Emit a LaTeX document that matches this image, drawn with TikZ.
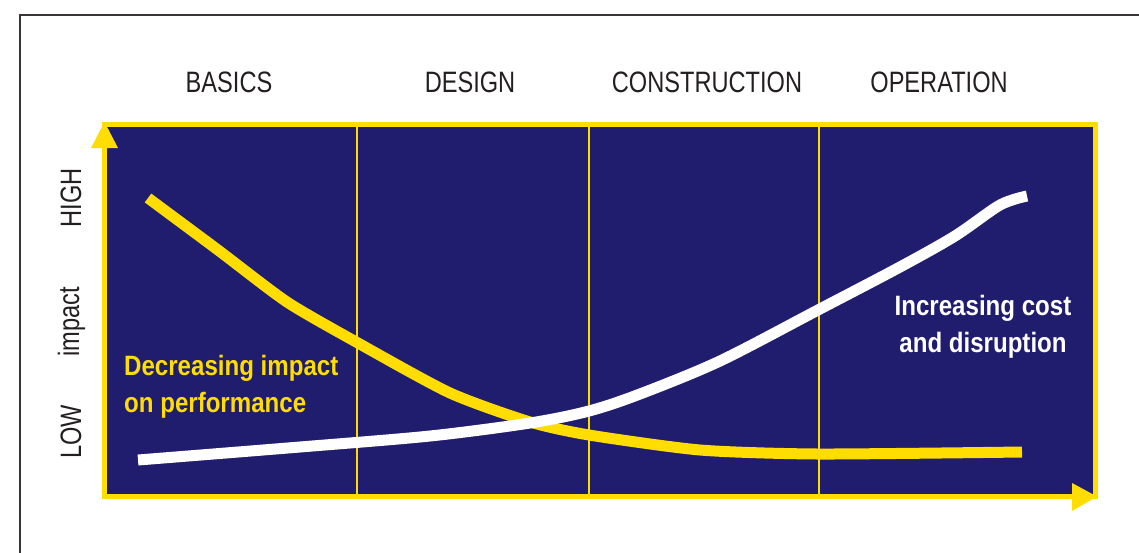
\documentclass[tikz,border=0pt]{standalone}
\usepackage{fontspec}
\setmainfont[FakeStretch=0.8]{Liberation Sans}
\newfontfamily\lblfont[FakeStretch=0.86]{Liberation Sans}
\definecolor{navy}{RGB}{32,28,110}
\definecolor{gold}{RGB}{255,221,0}
\definecolor{ink}{RGB}{35,31,32}
\begin{document}
\begin{tikzpicture}[x=1pt,y=-1pt,
  head/.style={anchor=base,text=ink,font=\fontsize{29.5}{32}\selectfont,inner sep=0pt},
  side/.style={rotate=90,text=ink,font=\fontsize{29.5}{32}\selectfont,inner sep=0pt},
  curvelbl/.style={font=\lblfont\bfseries\fontsize{28}{37}\selectfont,inner sep=0pt,anchor=base west}]
\useasboundingbox (0,0) rectangle (1139,552);
% outer frame
\draw[ink!90,line width=2pt] (19.5,14.5) rectangle (1160,570);
% chart area
\fill[navy] (104.5,124.5) rectangle (1095,496.5);
\foreach \xx in {357,589,819}
  \draw[gold,line width=2pt] (\xx,124.5) -- (\xx,496.5);
% curves
\draw[gold,line width=11pt] plot[smooth,tension=0.4] coordinates {(148,198) (218,250) (287,302) (358,343) (450,393) (530,422) (589,435) (700,450) (818,454) (1022,452)};
\draw[white,line width=11pt] plot[smooth,tension=0.5] coordinates {(138,460) (300,447) (430,436) (530,423) (589,411) (640,394) (720,361) (818,310) (900,267) (955,236) (1000,205) (1027,196)};
% border and axes
\draw[gold,line width=5pt] (104.5,124.5) rectangle (1095,496.5);
\fill[gold] (91,148) -- (104.5,122) -- (118,148) -- cycle;
\fill[gold] (1072,483) -- (1097,496.5) -- (1072,511) -- cycle;
% headers
\node[head] (basics) at (229,92) {BASICS};
\node[head] (design) at (470,92) {DESIGN};
\node[head] (constr) at (707,92) {CONSTRUCTION};
\node[head] (oper) at (939,92) {OPERATION};
% side labels
\node[side] (high) at (71,198) {HIGH};
\node[side,anchor=base] (impact) at (79,322) {impact};
\node[side] (low) at (71,432) {LOW};
% curve labels
\node[curvelbl,text=gold,align=left] (dec) at (124,412) {Decreasing impact\\on performance};
\node[curvelbl,text=white,align=center,anchor=base] (inc) at (983,352) {Increasing cost\\and disruption};
\end{tikzpicture}
\end{document}
